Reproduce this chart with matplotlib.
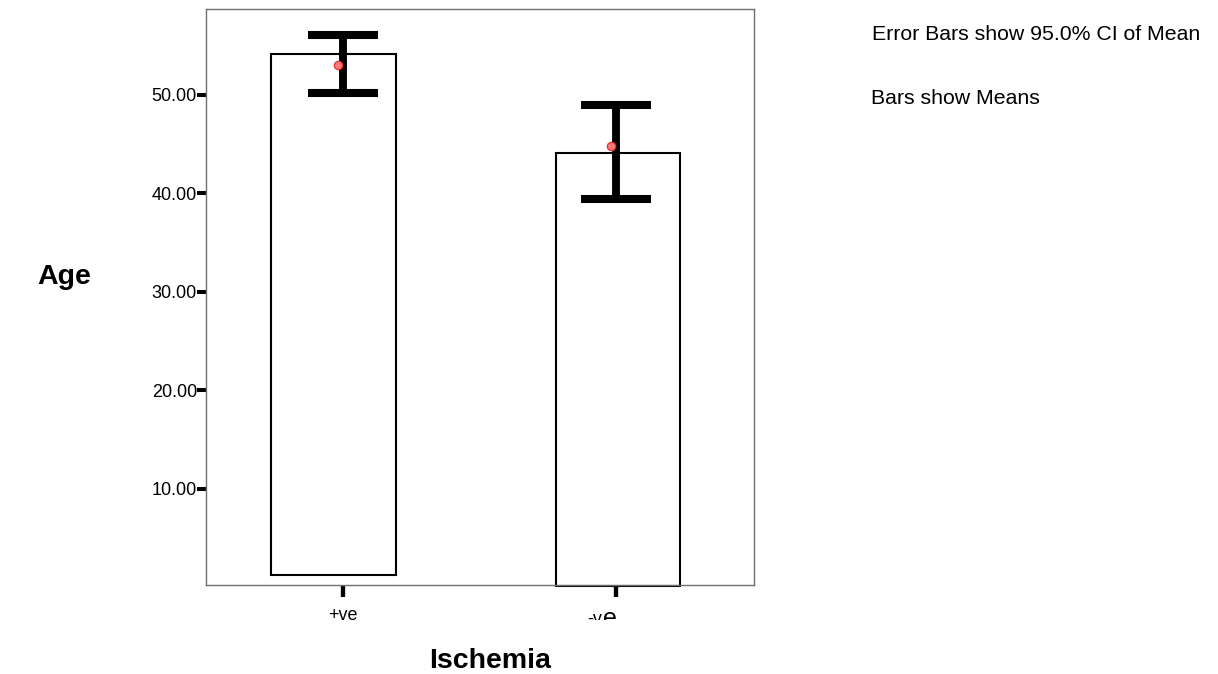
import numpy as np
import matplotlib.pyplot as plt
from matplotlib.transforms import offset_copy, Bbox, TransformedBbox

plt.rcParams['font.family'] = ['Liberation Sans', 'DejaVu Sans']

# values
categories = ['+ve', '-ve']
bar_top = [54.1, 44.1]       # bars show means
bar_bottom = [1.3, 0.1]
means = [53.05, 44.75]       # red point
ci_low = [50.2, 39.4]
ci_high = [56.1, 48.95]
yticks = [10, 20, 30, 40, 50]

fig = plt.figure(figsize=(12.18, 6.74), dpi=100)
ax = fig.add_axes([206 / 1218, 89 / 674, 548 / 1218, 576 / 674])

x = np.arange(len(categories))
bar_shift = np.array([-0.035, 0.007])

ax.bar(x + bar_shift, np.subtract(bar_top, bar_bottom), bottom=bar_bottom,
       width=0.456, color='white', edgecolor='black', linewidth=1.5,
       clip_on=False, zorder=2)

mid = (np.array(ci_low) + np.array(ci_high)) / 2
ax.errorbar(x, mid, yerr=[mid - np.array(ci_low), np.array(ci_high) - mid],
            fmt='none', ecolor='black', elinewidth=5.7, capsize=25.5,
            capthick=5.8, zorder=3)

ax.plot(x - 0.018, means, 'o', ms=6, mfc='#ff7b7b', mec='#e8302f', mew=0.9,
        zorder=4)

ax.set_xlim(-0.502, 1.505)
ax.set_ylim(0.25, 58.7)

ax.set_yticks(yticks)
ax.set_yticklabels([f'{v:.2f}' for v in yticks])
ax.tick_params(axis='y', direction='out', length=6.5, width=2.9, pad=0,
               labelsize=13)

ax.set_xticks(x)
ax.set_xticklabels([categories[0], ''])
ax.tick_params(axis='x', direction='out', length=8.6, width=3.1, pad=7,
               labelsize=13)

for s in ax.spines.values():
    s.set_color('#707070')
    s.set_linewidth(1.0)

# the second category label is half cut off in the original
clip = TransformedBbox(Bbox([[0, 54 / 674], [1, 1]]), fig.transFigure)
t1 = fig.text(x[1], 0, categories[1][:2], fontsize=13, ha='right', va='top',
              transform=offset_copy(ax.get_xaxis_transform(), fig=fig,
                                    x=-13.5, y=-25.5, units='dots'))
t2 = fig.text(x[1], 0, categories[1][2:], fontsize=18, ha='left', va='top',
              transform=offset_copy(ax.get_xaxis_transform(), fig=fig,
                                    x=-13, y=-22.5, units='dots'))
for t in (t1, t2):
    t.set_clip_on(True)
    t.set_clip_box(clip)

fig.text(64 / 1218, 1 - 284 / 674, 'Age', ha='center', va='baseline',
         fontsize=20.5, fontweight='bold')
fig.text(490 / 1218, 1 - 668 / 674, 'Ischemia', ha='center', va='baseline',
         fontsize=20.5, fontweight='bold')

fig.text(872 / 1218, 1 - 40 / 674, 'Error Bars show 95.0% CI of Mean',
         ha='left', va='baseline', fontsize=15.3)
fig.text(871 / 1218, 1 - 104 / 674, 'Bars show Means',
         ha='left', va='baseline', fontsize=15.3)

fig.savefig('out.png', dpi=100)
